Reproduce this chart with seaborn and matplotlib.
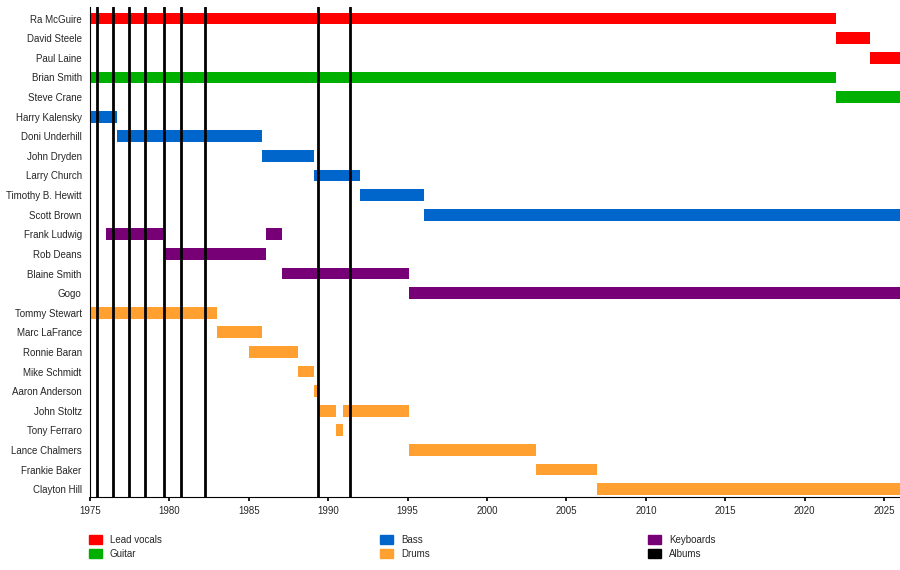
import matplotlib.pyplot as plt
import matplotlib.patches as mpatches
import seaborn as sns

sns.set_theme(style="white")
plt.rcParams['font.family'] = ['Liberation Sans', 'DejaVu Sans']

members = ["Ra McGuire", "David Steele", "Paul Laine", "Brian Smith", "Steve Crane",
           "Harry Kalensky", "Doni Underhill", "John Dryden", "Larry Church",
           "Timothy B. Hewitt", "Scott Brown", "Frank Ludwig", "Rob Deans",
           "Blaine Smith", "Gogo", "Tommy Stewart", "Marc LaFrance", "Ronnie Baran",
           "Mike Schmidt", "Aaron Anderson", "John Stoltz", "Tony Ferraro",
           "Lance Chalmers", "Frankie Baker", "Clayton Hill"]
roles = ["vocals", "vocals", "vocals", "guitar", "guitar",
         "bass", "bass", "bass", "bass", "bass", "bass",
         "keys", "keys", "keys", "keys",
         "drums", "drums", "drums", "drums", "drums", "drums", "drums",
         "drums", "drums", "drums"]
# (start, end) periods per member
periods = [
    [(1975, 2022)], [(2022, 2024.1)], [(2024.1, 2026)],
    [(1975, 2022)], [(2022, 2026)],
    [(1975, 1976.7)], [(1976.7, 1985.8)], [(1985.8, 1989.1)], [(1989.1, 1992)],
    [(1992, 1996)], [(1996, 2026)],
    [(1976, 1979.7), (1986.1, 1987.1)], [(1979.7, 1986.1)], [(1987.1, 1995.1)],
    [(1995.1, 2026)],
    [(1975, 1983)], [(1983, 1985.8)], [(1985, 1988.1)], [(1988.1, 1989.1)],
    [(1989.1, 1989.4)], [(1989.4, 1990.5), (1990.9, 1995.1)], [(1990.5, 1990.9)],
    [(1995.1, 2003.1)], [(2003.1, 2006.9)], [(2006.9, 2026)],
]
albums = [1975.44, 1976.45, 1977.46, 1978.47, 1979.67, 1980.74, 1982.25, 1989.38, 1991.4]

colors = {"vocals": "#ff0000", "guitar": "#00b000", "bass": "#0066cc",
          "keys": "#770077", "drums": "#ffa030"}
labels = {"vocals": "Lead vocals", "guitar": "Guitar", "bass": "Bass",
          "drums": "Drums", "keys": "Keyboards"}

fig = plt.figure(figsize=(9, 5.7), dpi=100)
ax = fig.add_axes([0.1, 0.128, 0.9, 0.86])

for i, (name, role) in enumerate(zip(members, roles)):
    for s, e in periods[i]:
        ax.barh(i, e - s, left=s, height=0.6, color=colors[role], linewidth=0)
for a in albums:
    ax.axvline(a, color="black", linewidth=2, zorder=3)

ax.set_xlim(1975, 2026)
ax.set_ylim(len(members) - 0.6, -0.6)
ax.set_yticks(range(len(members)))
ax.set_yticklabels(members, fontsize=7)
ax.set_xticks(range(1975, 2026, 5))
ax.tick_params(axis="x", labelsize=7, bottom=True, length=3, color="black")
ax.tick_params(axis="y", length=0, pad=6)
for sp in ["top", "right"]:
    ax.spines[sp].set_visible(False)
for sp in ["left", "bottom"]:
    ax.spines[sp].set_color("black")
    ax.spines[sp].set_linewidth(0.8)

order = ["vocals", "guitar", "bass", "drums", "keys"]
handles = [mpatches.Patch(color=colors[r], label=labels[r]) for r in order]
handles.append(mpatches.Patch(color="black", label="Albums"))
fig.legend(handles=handles, ncol=3, loc="upper left", bbox_to_anchor=(0.095, 0.068),
           frameon=False, fontsize=7, handlelength=1.3, handleheight=1.1,
           columnspacing=22.5, labelspacing=0.4, borderaxespad=0)

fig.savefig("out.png", dpi=100)
